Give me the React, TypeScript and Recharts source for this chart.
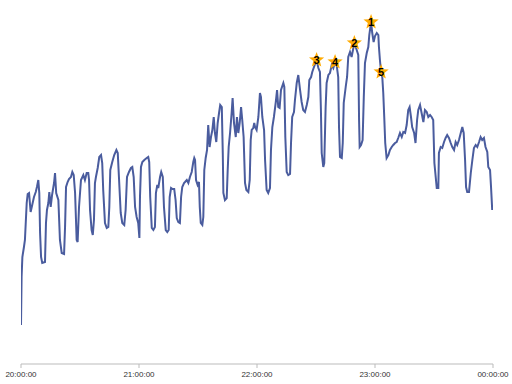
import React from 'react'
import { ComposedChart, Line, Scatter, XAxis, YAxis } from 'recharts'

// minutes after 20:00
const minutes = [
  0, 0.3, 0.7, 1.5, 2.0, 2.9, 3.4, 4.1, 4.9, 5.7, 6.6, 7.5, 8.1, 8.8, 9.3, 9.7, 10.2, 10.8, 12.2, 12.7,
  13.2, 13.9, 14.4, 15.1, 15.8, 16.8, 17.3, 17.9, 19.0, 19.8, 20.7, 21.9, 22.4, 22.9, 23.7, 24.4, 25.4, 26.1, 26.8, 27.5,
  28.3, 28.8, 29.5, 30.5, 31.7, 32.5, 33.4, 34.2, 34.6, 35.1, 35.9, 36.5, 37.1, 37.6, 38.1, 39.0, 39.8, 40.7, 41.3, 41.8,
  42.7, 43.6, 44.4, 44.9, 45.4, 46.4, 47.4, 48.5, 49.2, 49.8, 50.7, 51.5, 52.5, 53.2, 53.9, 54.9, 55.9, 56.6, 57.3, 58.0,
  58.8, 59.6, 60.2, 60.5, 61.0, 61.7, 62.7, 63.9, 64.7, 65.2, 65.7, 66.5, 67.3, 68.1, 68.6, 69.3, 69.8, 70.7, 71.3, 72.1,
  72.7, 73.6, 74.4, 75.1, 75.6, 76.3, 77.1, 77.9, 78.6, 79.2, 80.0, 80.8, 81.4, 82.0, 82.9, 83.4, 84.3, 85.1, 85.9, 86.8,
  87.6, 88.1, 88.5, 89.0, 89.8, 90.5, 90.9, 91.4, 92.2, 92.7, 93.2, 93.9, 94.6, 95.2, 95.9, 96.6, 97.3, 98.0, 98.6, 99.3,
  100.0, 100.7, 101.3, 102.1, 102.6, 102.9, 103.7, 104.6, 105.1, 105.6, 106.3, 107.1, 107.6, 108.3, 109.2, 109.8, 110.5, 111.2, 111.9, 112.5,
  113.2, 113.9, 114.6, 115.6, 116.3, 116.8, 117.3, 118.1, 118.6, 119.0, 119.8, 120.7, 121.5, 122.0, 122.7, 123.6, 124.1, 124.9, 125.7, 126.6,
  127.1, 127.8, 128.6, 129.5, 130.2, 130.8, 131.5, 132.2, 133.4, 133.9, 134.4, 135.1, 135.9, 136.8, 137.3, 137.9, 138.8, 139.3, 140.2, 141.0,
  141.9, 142.7, 143.5, 144.4, 145.3, 146.1, 146.6, 147.5, 148.1, 148.8, 150.3, 151.2, 152.0, 152.5, 152.9, 153.7, 154.2, 154.9, 155.4, 156.3,
  157.1, 158.0, 158.8, 159.7, 160.5, 161.3, 161.7, 162.2, 163.1, 163.6, 164.1, 165.1, 165.8, 166.4, 167.3, 168.1, 169.5, 170.7, 171.5, 171.9,
  172.2, 172.9, 173.7, 174.3, 174.9, 175.8, 176.6, 177.1, 178.0, 178.6, 179.3, 180.0, 180.9, 181.7, 182.0, 182.5, 183.1, 183.7, 184.2, 184.7,
  185.2, 185.9, 186.8, 187.6, 188.5, 189.3, 190.2, 191.0, 191.8, 192.7, 193.6, 194.4, 195.3, 196.1, 196.9, 197.6, 198.3, 198.9, 199.9, 200.6,
  201.4, 202.0, 202.9, 203.7, 204.6, 205.4, 206.3, 207.1, 208.0, 208.8, 209.6, 210.2, 211.4, 212.2, 212.5, 213.4, 214.2, 215.1, 215.9, 216.7,
  217.6, 218.5, 219.3, 220.2, 221.0, 221.8, 222.7, 223.6, 224.4, 225.1, 225.8, 226.3, 226.9, 227.8, 228.7, 229.5, 230.3, 231.2, 232.0, 232.9,
  233.7, 234.5, 235.4, 236.2, 237.1, 237.6, 238.5, 239.0, 239.6,
]

const values = [
  39, 87, 107, 117, 124, 161, 170, 171, 152, 159, 167, 172, 177, 184, 171, 131, 107, 101, 102, 141,
  154, 161, 172, 157, 169, 181, 191, 171, 164, 124, 111, 110, 137, 177, 182, 185, 187, 192, 189, 171,
  124, 122, 157, 184, 189, 184, 191, 191, 184, 154, 134, 129, 144, 181, 187, 196, 207, 209, 201, 174,
  141, 136, 137, 157, 194, 202, 209, 214, 211, 187, 151, 141, 139, 154, 187, 192, 196, 197, 187, 157,
  147, 141, 126, 167, 197, 202, 204, 206, 207, 202, 167, 136, 134, 137, 171, 179, 176, 187, 192, 187,
  157, 134, 132, 134, 167, 176, 175, 175, 164, 146, 142, 141, 167, 177, 181, 182, 184, 181, 187, 192,
  202, 206, 204, 184, 179, 182, 157, 141, 139, 147, 194, 206, 214, 239, 217, 227, 234, 247, 231, 222,
  241, 251, 259, 257, 211, 171, 164, 166, 194, 217, 231, 251, 266, 241, 227, 247, 231, 241, 257, 244,
  227, 181, 174, 172, 184, 224, 234, 236, 241, 237, 234, 247, 271, 267, 247, 234, 204, 174, 171, 176,
  214, 237, 247, 261, 274, 257, 256, 274, 281, 277, 227, 192, 189, 190, 221, 247, 252, 264, 281, 289,
  274, 262, 254, 252, 259, 267, 284, 287, 292, 296, 304, 296, 292, 254, 211, 197, 201, 257, 281, 289,
  291, 299, 296, 302, 299, 287, 237, 207, 206, 221, 261, 277, 287, 307, 312, 307, 321, 314, 309, 244,
  217, 219, 224, 267, 301, 311, 317, 329, 342, 331, 322, 328, 331, 329, 317, 304, 292, 287, 271, 247,
  221, 206, 209, 214, 217, 219, 221, 222, 226, 231, 227, 232, 231, 239, 254, 257, 247, 237, 231, 221,
  244, 254, 259, 251, 242, 254, 252, 247, 249, 247, 244, 201, 176, 176, 211, 217, 216, 222, 226, 229,
  226, 221, 217, 214, 222, 219, 224, 231, 237, 231, 204, 177, 172, 172, 191, 204, 216, 219, 217, 222,
  227, 224, 226, 217, 212, 197, 194, 177, 154,
]

// ranked peaks
const peakMinutes = [178.0, 169.5, 150.3, 159.7, 183.1]
const peakValues = [342, 321, 304, 302, 292]
const peakRanks = ['1', '2', '3', '4', '5']

const tickMinutes = [0, 60, 120, 180, 240]
const tickLabels = ['20:00:00', '21:00:00', '22:00:00', '23:00:00', '00:00:00']

const series = minutes.map((t, i) => ({ t, v: values[i] }))
const peaks = peakMinutes.map((t, i) => ({ t, v: peakValues[i], rank: peakRanks[i] }))

const StarMark = ({ cx, cy, payload }: any) => {
  const pts: string[] = []
  for (let k = 0; k < 10; k++) {
    const r = k % 2 === 0 ? 8 : 3.4
    const a = -Math.PI / 2 + (k * Math.PI) / 5
    pts.push(`${cx + r * Math.cos(a)},${cy + r * Math.sin(a)}`)
  }
  return (
    <g>
      <polygon points={pts.join(' ')} fill="#ffab00" />
      <text
        x={cx}
        y={cy + 4}
        textAnchor="middle"
        fontSize={11}
        fontWeight="bold"
        fontFamily="Liberation Sans, Arial, sans-serif"
        fill="#000"
      >
        {payload.rank}
      </text>
    </g>
  )
}

export default function App() {
  return (
    <div style={{ position: 'fixed', left: 0, top: 0, background: '#fff' }}>
      <ComposedChart
        width={512}
        height={384}
        margin={{ top: 10, right: 19, bottom: 0, left: 21 }}
      >
        <XAxis
          type="number"
          dataKey="t"
          domain={[0, 240]}
          ticks={tickMinutes}
          tickFormatter={(m: number) => tickLabels[tickMinutes.indexOf(m)]}
          height={20}
          tickSize={4}
          tickMargin={3}
          stroke="#bbbbbb"
          tick={{ fontSize: 8, fill: '#333', fontFamily: 'Liberation Sans, Arial, sans-serif' }}
          interval={0}
          allowDataOverflow
        />
        <YAxis type="number" dataKey="v" domain={[0, 354]} hide />
        <Line
          data={series}
          dataKey="v"
          type="linear"
          stroke="#4a5c9e"
          strokeWidth={2}
          dot={false}
          isAnimationActive={false}
        />
        <Scatter data={peaks} dataKey="v" shape={StarMark} isAnimationActive={false} />
      </ComposedChart>
    </div>
  )
}
